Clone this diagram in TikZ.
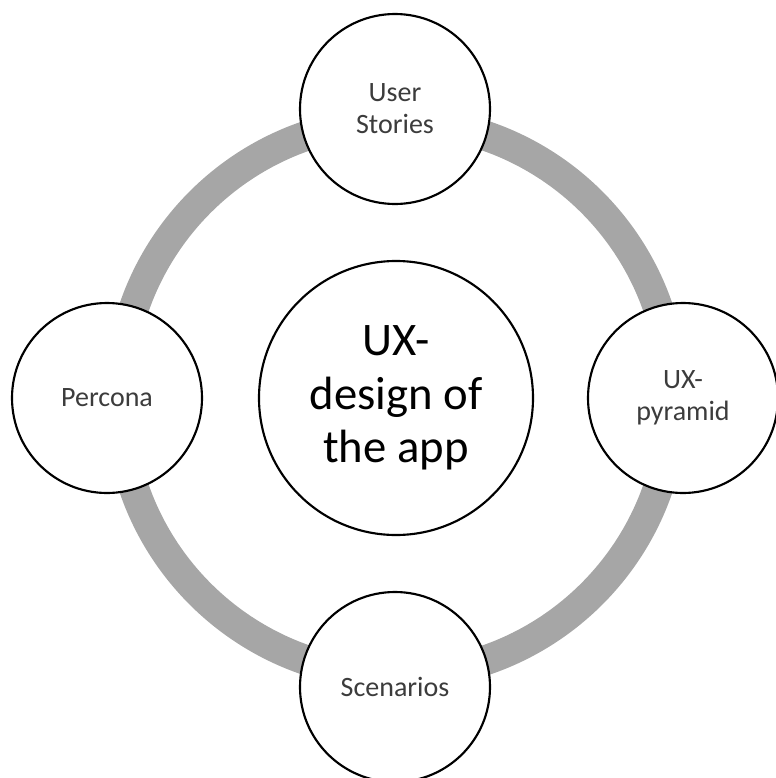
\documentclass[tikz,border=0pt]{standalone}
\usepackage{fontspec}
\setmainfont{Carlito}
\definecolor{ringgray}{RGB}{166,166,166}
\definecolor{labelgray}{RGB}{60,60,60}
\tikzset{
  bubble/.style={circle, draw=black, line width=1.6pt, fill=white, minimum size=142.5pt, inner sep=0pt, align=center, text=labelgray, font=\fontsize{21}{24}\selectfont},
  hub/.style={bubble, minimum size=205.5pt, text=black, font=\fontsize{35}{40}\selectfont},
  ring/.style={draw=ringgray, line width=22.5pt}
}
\begin{document}
\begin{tikzpicture}[x=0.75pt,y=0.75pt,yscale=-1,xscale=1]
\useasboundingbox (0,0) rectangle (775,778);

%Shape: Circle (centre)
\node[hub] (app) at (396,398) {UX-\\design of\\the app};
%Shape: Ring
\draw[ring] (app.center) circle [radius=277];
%Shape: Circle (top)
\node[bubble] (stories) at (395,109) {User\\Stories};
%Shape: Circle (right)
\node[bubble] (pyramid) at (683,398) {UX-\\pyramid};
%Shape: Circle (bottom)
\node[bubble] (scenarios) at (395,687) {Scenarios};
%Shape: Circle (left)
\node[bubble] (persona) at (107,398) {Percona};

\end{tikzpicture}
\end{document}
